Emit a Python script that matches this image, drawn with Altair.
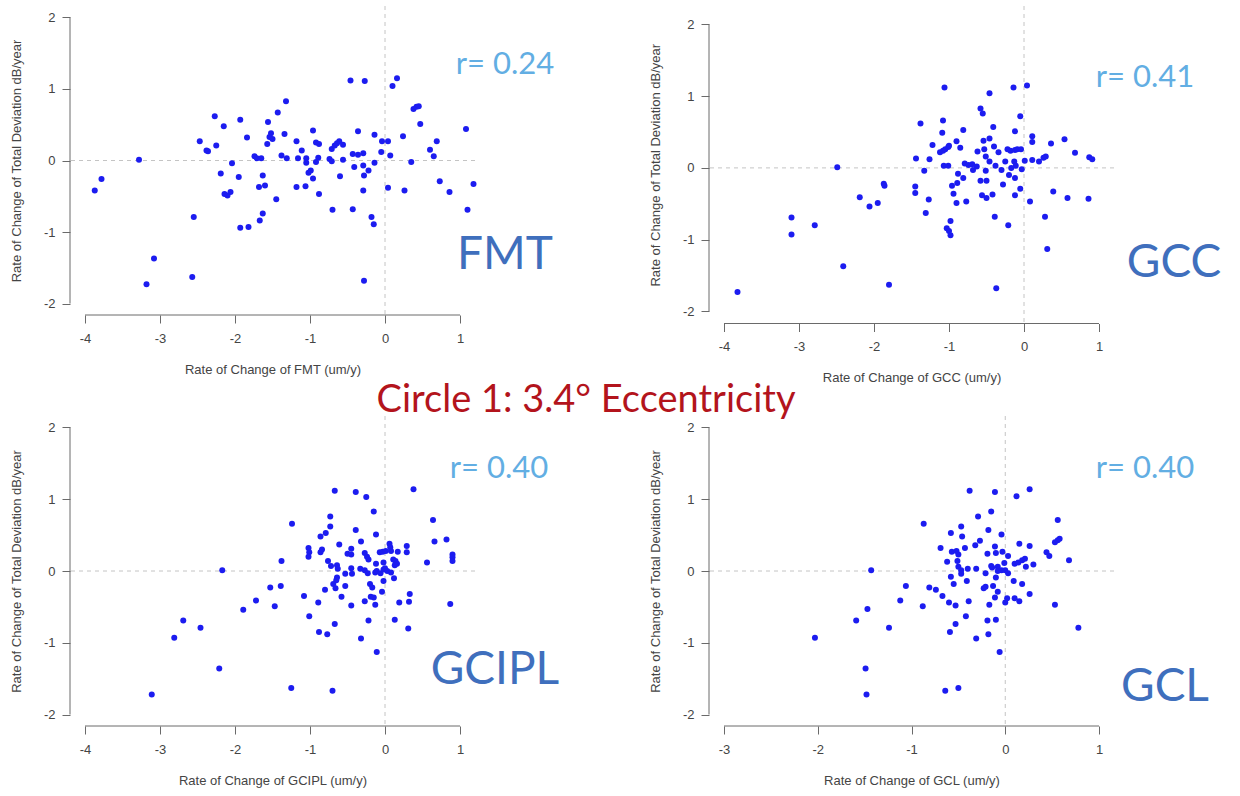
import altair as alt
import pandas as pd

# ---------------- data ----------------
fmt_x = [-3.87, -3.78, -3.28, -3.08, -3.18, -2.57, -2.55, -2.47, -2.38, -2.36, -2.27, -2.25, -2.15, -2.19,
         -2.14, -2.10, -2.06, -2.04, -1.93, -1.95, -1.93, -1.82, -1.84, -1.74, -1.71, -1.65, -1.63, -1.68,
         -1.60, -1.63, -1.67, -1.56, -1.52, -1.54, -1.50, -1.57, -1.45, -1.43, -1.32, -1.34, -1.38, -1.31,
         -1.18, -1.11, -1.16, -1.18, -1.06, -1.05, -1.05, -1.02, -0.99, -0.96, -0.96, -0.92, -0.88, -0.89,
         -0.92, -0.88, -0.74, -0.71, -0.71, -0.67, -0.64, -0.61, -0.56, -0.56, -0.60, -0.70, -0.46, -0.27,
         -0.43, -0.36, -0.43, -0.36, -0.29, -0.41, -0.29, -0.22, -0.28, -0.14, -0.14, -0.29, -0.18, -0.15,
         -0.28, -0.04, 0.04, -0.05, 0.07, 0.04, 0.10, 0.16, 0.24, 0.35, 0.26, 0.38, 0.42, 0.45, 0.47, 0.60,
         0.65, 0.69, 0.73, 0.86, 1.08, 1.10, 1.18]
fmt_y = [-0.42, -0.26, 0.01, -1.37, -1.73, -1.63, -0.79, 0.27, 0.14, 0.13, 0.62, 0.21, 0.48, -0.18,
         -0.47, -0.49, -0.44, -0.04, 0.57, -0.23, -0.94, -0.93, 0.32, 0.06, 0.03, 0.03, -0.21, -0.37,
         -0.35, -0.74, -0.84, 0.54, 0.38, 0.33, 0.30, 0.23, -0.54, 0.67, 0.83, 0.37, 0.07, 0.03,
         0.27, 0.14, 0.03, -0.37, -0.36, 0.03, -0.03, -0.17, -0.14, -0.25, 0.42, 0.25, 0.23, 0.04,
         -0.02, -0.47, 0.02, -0.01, 0.16, 0.21, 0.24, 0.27, 0.22, 0.01, -0.22, -0.69, 1.12, 1.11,
         -0.68, 0.41, 0.09, 0.08, 0.10, -0.09, -0.07, -0.14, -0.21, 0.36, -0.03, -0.42, -0.79, -0.89,
         -1.68, 0.27, 0.27, 0.12, 0.07, -0.38, 1.04, 1.15, 0.34, -0.02, -0.42, 0.72, 0.75, 0.76, 0.51, 0.15,
         0.06, 0.27, -0.29, -0.44, 0.44, -0.69, -0.33]

gcc_x = [-3.82, -3.10, -3.10, -2.79, -2.49, -2.41, -2.19, -2.06, -1.95, -1.87, -1.86, -1.80,
         -1.06, -0.46, -0.14, 0.04, -0.58, -0.55, -1.38, -1.08, -1.09, -0.81, -0.41, -0.05, -0.12, -1.22,
         -1.12, -1.08, -1.05, -1.01, -1.00, -0.90, -0.85, -1.44, -1.26, -1.33, -1.07, -1.01, -0.88, -0.81,
         -0.89, -1.45, -1.45, -1.27, -1.31, -0.96, -0.94, -0.90, -0.77, -0.98, -1.03, -1.00, -0.98, -0.79,
         -0.74, -0.69, -0.63, -0.68, -0.62, -0.54, -0.46, -0.53, -0.51, -0.46, -0.40, -0.34, -0.38, -0.30,
         -0.25, -0.22, -0.18, -0.12, -0.09, -0.04, -0.51, -0.58, -0.50, -0.56, -0.50, -0.42, -0.28, -0.20,
         -0.17, -0.13, -0.11, -0.12, -0.03, -0.05, -0.12, -0.39, -0.21, -0.37, 0.01, 0.11, 0.20, 0.26,
         0.29, 0.11, 0.11, 0.36, 0.54, 0.68, 0.87, 0.91, 0.08, 0.39, 0.58, 0.86, 0.28, 0.31]
gcc_y = [-1.73, -0.69, -0.93, -0.80, 0.01, -1.37, -0.41, -0.54, -0.49, -0.22, -0.25, -1.63,
         1.12, 1.04, 1.12, 1.15, 0.83, 0.76, 0.62, 0.66, 0.49, 0.53, 0.57, 0.72, 0.51, 0.32,
         0.22, 0.24, 0.26, 0.29, 0.31, 0.37, 0.28, 0.13, 0.12, -0.04, 0.03, 0.03, -0.08, -0.14,
         -0.21, -0.26, -0.35, -0.44, -0.63, -0.25, -0.36, -0.49, -0.47, -0.74, -0.84, -0.88, -0.94, 0.06,
         0.04, 0.05, 0.02, -0.03, 0.23, 0.38, 0.41, 0.26, 0.16, 0.09, 0.30, 0.22, 0.03, -0.03,
         0.09, 0.26, 0.24, 0.25, 0.26, 0.26, -0.04, -0.18, -0.18, -0.38, -0.42, -0.37, -0.23, -0.10,
         0.00, 0.09, 0.03, -0.14, -0.02, -0.29, -0.38, -0.68, -0.80, -1.68, 0.10, 0.11, 0.09, 0.14,
         0.16, 0.44, 0.36, 0.34, 0.40, 0.21, 0.15, 0.12, -0.47, -0.33, -0.42, -0.43, -0.68, -1.13]

gcipl_x = [-2.17, -2.69, -2.81, -2.46, -2.21, -3.11, -1.89, -1.72, -1.53, -1.47, -1.39, -1.38, -1.24,
           -1.25, -0.70, -1.08, -1.01, -0.89, -0.88, -0.77, -0.67, -1.02, -1.01, -1.02, -0.86, -0.79,
           -0.73, -0.73, -0.86, -0.84, -0.67, -0.39, -0.25, -0.15, -0.39, -0.12, -0.61, -0.32, -0.50,
           -0.45, -0.45, -0.76, -0.72, -0.64, -0.63, -0.53, -0.45, -0.44, -0.64, -0.65, -0.69, -0.66,
           -0.80, -0.53, -0.58, -0.45, -0.33, -0.27, -0.27, -0.24, -0.22, -0.12, -0.02, -0.23, -0.13,
           -0.11, -0.06, -0.02, 0.00, 0.03, 0.08, -0.20, -0.17, -0.04, -0.02, -0.27, -0.19, -0.15, -0.13,
           -0.22, -0.32, -0.11, -0.07, -0.03, 0.01, 0.06, 0.07, 0.08, 0.11, 0.14, 0.16, 0.13, 0.12, 0.17,
           0.29, 0.29, 0.19, 0.33, 0.32, 0.13, 0.31, 0.38, 0.64, 0.66, 0.82, 0.56, 0.90, 0.90, 0.90, 0.87]
gcipl_y = [0.01, -0.69, -0.93, -0.79, -1.36, -1.72, -0.54, -0.41, -0.23, -0.49, -0.21, 0.14, 0.66,
           -1.63, -1.67, -0.35, -0.63, -0.44, -0.85, -0.88, -0.74, 0.32, 0.26, 0.20, 0.48, 0.53,
           0.62, 0.76, 0.26, 0.30, 1.12, 1.10, 1.03, 0.83, 0.57, 0.51, 0.37, 0.41, 0.24,
           0.31, 0.23, 0.14, 0.07, 0.08, 0.03, -0.04, 0.04, -0.04, -0.09, -0.13, -0.18, -0.24,
           -0.26, -0.21, -0.36, -0.48, 0.03, 0.01, 0.25, 0.20, 0.16, 0.10, 0.12, -0.03, -0.02,
           0.00, -0.03, 0.02, 0.04, 0.00, -0.02, -0.18, -0.23, -0.29, -0.14, -0.42, -0.36, -0.37, -0.47,
           -0.69, -0.94, -1.13, 0.26, 0.27, 0.28, 0.38, 0.33, 0.28, 0.16, 0.14, 0.10, 0.08, -0.10, 0.27,
           0.35, 0.26, -0.44, -0.32, -0.43, -0.68, -0.80, 1.14, 0.71, 0.41, 0.44, 0.12, 0.23, 0.19, 0.14, -0.46]

gcl_x = [-2.03, -1.43, -1.59, -1.47, -1.24, -1.12, -1.06, -1.49, -1.48, -0.87, -0.88, -0.81, -0.74,
         -0.67, -0.60, -0.53, -0.38, -0.11, 0.12, 0.26, -0.29, -0.15, -0.47, -0.58, -0.46, -0.18, -0.04,
         -0.69, -0.57, -0.52, -0.50, -0.43, -0.62, -0.51, -0.32, -0.27, -0.50, -0.47, -0.40, -0.31, -0.47,
         -0.58, -0.55, -0.41, -0.19, -0.11, -0.10, -0.03, 0.03, -0.15, -0.14, -0.08, -0.01, 0.00, -0.08,
         -0.04, -0.21, -0.10, -0.23, -0.21, -0.13, -0.08, -0.11, -0.39, -0.17, 0.00, 0.02, 0.10, 0.15,
         0.03, 0.09, 0.18, 0.10, 0.14, 0.18, 0.21, 0.22, 0.30, 0.15, 0.26, 0.26, -0.42, -0.53, -0.59,
         -0.31, -0.19, -0.10, -0.18, -0.06, -0.64, -0.50, 0.44, 0.47, 0.53, 0.56, 0.58, 0.56, 0.68, 0.53, 0.78]
gcl_y = [-0.93, 0.01, -0.69, -0.53, -0.79, -0.41, -0.21, -1.36, -1.72, 0.66, -0.49, -0.23, -0.26,
         -0.35, -0.44, -0.48, 1.12, 1.10, 1.04, 1.14, 0.76, 0.83, 0.62, 0.53, 0.48, 0.57, 0.51,
         0.32, 0.27, 0.28, 0.23, 0.32, 0.13, 0.14, 0.36, 0.42, 0.06, 0.01, 0.03, 0.03, -0.04,
         -0.08, -0.18, -0.14, 0.24, 0.34, 0.25, 0.27, 0.21, 0.07, 0.05, 0.06, 0.11, 0.01, 0.00,
         0.01, -0.03, -0.09, -0.24, -0.22, -0.21, -0.29, -0.37, -0.42, -0.47, -0.44, -0.38, -0.38, -0.42,
         -0.03, -0.14, -0.18, 0.10, 0.12, 0.15, 0.17, 0.06, 0.09, 0.38, 0.35, -0.32, -0.63, -0.74, -0.85,
         -0.94, -0.69, -0.68, -0.88, -1.13, -1.67, -1.63, 0.26, 0.21, 0.40, 0.43, 0.45, 0.71, 0.15, -0.47, -0.79]

x_ticks_wide = [-4, -3, -2, -1, 0, 1]
x_ticks_gcl = [-3, -2, -1, 0, 1]
y_ticks = [-2, -1, 0, 1, 2]
y_title = "Rate of Change of Total Deviation dB/year"
main_title = "Circle 1: 3.4\u00b0 Eccentricity"

# ---------------- styles ----------------
AX_FONT = "Liberation Sans"
TXT_FONT = "Lato"
PT_COLOR = "#1c1cf0"
AXIS_COLOR = "#6a6a6a"
R_COLOR = "#62aee3"
NAME_COLOR = "#3f6fbd"
TITLE_COLOR = "#b3141c"
W = 405


def panel(xs, ys, xdom, ydom, xticks, xlabel, h, r_text, r_xy, name, name_xy, extra=None):
    df = pd.DataFrame({"x": xs, "y": ys})
    xsc = alt.Scale(domain=xdom, nice=False, zero=False)
    ysc = alt.Scale(domain=ydom, nice=False, zero=False)
    xaxis = alt.Axis(values=xticks, title=xlabel, labelExpr="'' + datum.value")
    yaxis = alt.Axis(values=y_ticks, title=y_title, labelExpr="'' + datum.value")

    def X(f):
        return alt.X(f"{f}:Q", scale=xsc, axis=xaxis, title=xlabel)

    def Y(f):
        return alt.Y(f"{f}:Q", scale=ysc, axis=yaxis, title=y_title)

    pts = alt.Chart(df).mark_circle(size=36, color=PT_COLOR, opacity=1).encode(x=X("x"), y=Y("y"))
    zx = pd.DataFrame({"x": [0]})
    zy = pd.DataFrame({"y": [0]})
    hline = alt.Chart(zy).mark_rule(color="#c4c4c4", strokeDash=[4, 4], strokeWidth=1).encode(y=Y("y"))
    vline = alt.Chart(zx).mark_rule(color="#c4c4c4", strokeDash=[4, 4], strokeWidth=1).encode(x=X("x"))
    yax = alt.Chart(pd.DataFrame({"y": [y_ticks[0]], "y2": [y_ticks[-1]]})).mark_rule(
        color=AXIS_COLOR, strokeWidth=1).encode(x=alt.value(0), y=Y("y"), y2="y2:Q")
    xax = alt.Chart(pd.DataFrame({"x": [xticks[0]], "x2": [xticks[-1]]})).mark_rule(
        color=AXIS_COLOR, strokeWidth=1).encode(y=alt.value(h), x=X("x"), x2="x2:Q")
    rtxt = alt.Chart(pd.DataFrame({"t": [r_text]})).mark_text(
        font=TXT_FONT, fontSize=31, color=R_COLOR, align="center", baseline="alphabetic").encode(
        x=alt.value(r_xy[0]), y=alt.value(r_xy[1]), text="t:N")
    ntxt = alt.Chart(pd.DataFrame({"t": [name]})).mark_text(
        font=TXT_FONT, fontSize=46, color=NAME_COLOR, align="center", baseline="alphabetic").encode(
        x=alt.value(name_xy[0]), y=alt.value(name_xy[1]), text="t:N")
    layers = [hline, vline, xax, yax, pts, rtxt, ntxt]
    if extra is not None:
        layers.append(extra)
    return alt.layer(*layers).properties(width=W, height=h)


title_layer = alt.Chart(pd.DataFrame({"t": [main_title]})).mark_text(
    font=TXT_FONT, fontSize=38, color=TITLE_COLOR, align="center", baseline="alphabetic").encode(
    x=alt.value(516), y=alt.value(406), text="t:N")

p1 = panel(fmt_x, fmt_y, [-4.2, 1.2], [-2.16, 2.16], x_ticks_wide, "Rate of Change of FMT (um/y)",
           309, "r= 0.24", (435, 67.5), "FMT", (435, 262.5), extra=title_layer)
p2 = panel(gcc_x, gcc_y, [-4.2, 1.2], [-2.17, 2.258], x_ticks_wide, "Rate of Change of GCC (um/y)",
           317.5, "r= 0.41", (436, 80.5), "GCC", (465, 270.5))
p3 = panel(gcipl_x, gcipl_y, [-4.2, 1.2], [-2.16, 2.16], x_ticks_wide, "Rate of Change of GCIPL (um/y)",
           310, "r= 0.40", (429, 62), "GCIPL", (425, 268))
p4 = panel(gcl_x, gcl_y, [-3.16, 1.16], [-2.16, 2.16], x_ticks_gcl, "Rate of Change of GCL (um/y)",
           310, "r= 0.40", (436, 62), "GCL", (456, 285))

chart = alt.concat(p1, p2, p3, p4, columns=2, spacing={"row": 92, "column": 234}, bounds="flush").properties(
    padding={"left": 10, "top": 5, "right": 10, "bottom": 10},
    background="white",
).configure_view(stroke=None).configure_axis(
    domain=False, grid=False, ticks=True, tickColor=AXIS_COLOR, tickSize=8, tickWidth=1,
    labelFont=AX_FONT, labelFontSize=13, labelColor="#444444", labelFlush=False,
    titleFont=AX_FONT, titleFontSize=13, titleFontWeight="normal", titleColor="#444444",
).configure_axisX(labelPadding=9, titlePadding=18).configure_axisY(labelPadding=7, titlePadding=20)

chart.save("out.html", embed_options={"renderer": "svg", "actions": False})
